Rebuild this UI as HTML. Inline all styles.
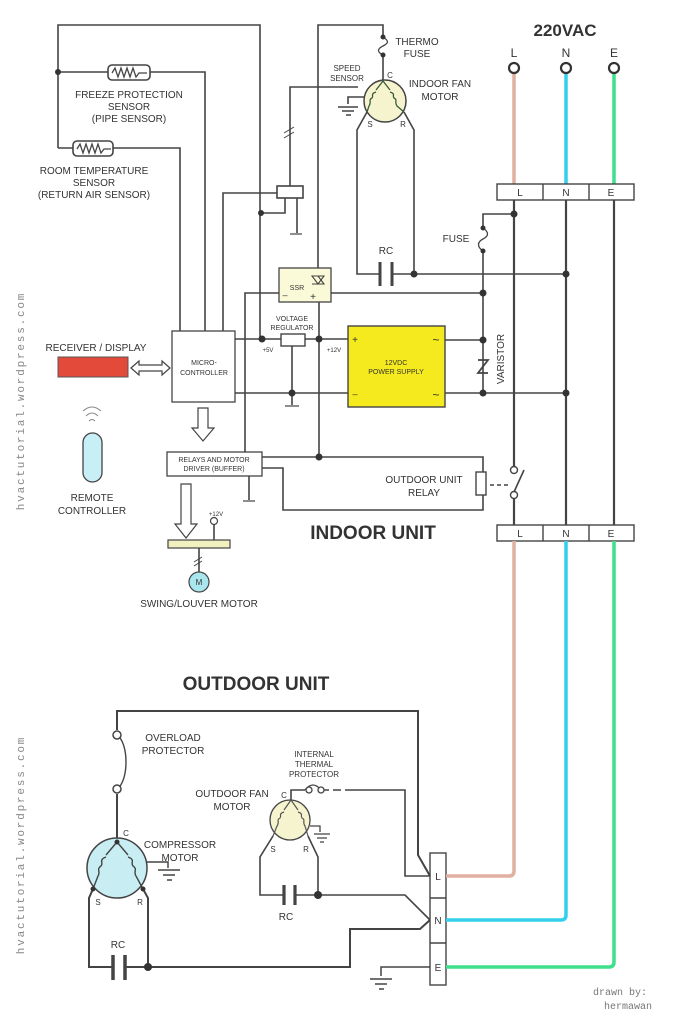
<!DOCTYPE html>
<html><head><meta charset="utf-8"><style>
html,body{margin:0;padding:0;background:#fff}
svg{display:block}
text{font-family:"Liberation Sans",sans-serif;fill:#333}
</style></head><body>
<svg width="686" height="1024" viewBox="0 0 686 1024" xmlns="http://www.w3.org/2000/svg">
<g fill="none" stroke="#444" stroke-width="1.6">
<path d="M58,148 V25 H260 V339"/>
<path d="M58,72 H108 M150,72 H205 V331"/>
<path d="M58,148 H73 M113,148 H180 V331"/>
<rect x="108" y="65" width="42" height="15" rx="4"/>
<rect x="73" y="141" width="40" height="15" rx="4"/>
<path d="M112,73 l3,-5 3,9 3,-9 3,9 3,-9 3,9 3,-9 3,9 3,-4 h8" stroke-width="1.3"/>
<path d="M77,149 l3,-5 3,9 3,-9 3,9 3,-9 3,9 3,-9 3,9 3,-4 h7" stroke-width="1.3"/>
<path d="M223,331 V193 H277"/>
<rect x="277" y="186" width="26" height="12"/>
<path d="M261,213 H285 V198 M297,198 V233 M290,186 V87 H358"/>
<path d="M284,133 l10,-6 M284,138 l10,-6" stroke-width="1"/>
<path d="M290,234 h12" stroke-width="1.2"/>
<path d="M318,270 V25 H383 V37 M383,55 V81"/>
<path d="M383,37 c6,4 6,6 0,9 c-6,3 -6,6 0,9" stroke-width="1.3"/>
<path d="M367,112 L357,130 V274 H380 M392,274 H565 M404,112 L414,130 V274"/>
<path d="M380,262 V286 M392,262 V286" stroke-width="3"/>
<path d="M364,97 H348 V104 M338,107 h20 M342,111 h12 M346,115 h5"/>
<path d="M514,200 V470 M514,495 V525 M566,200 V525 M614,200 V525" stroke-width="2.2"/>
<path d="M514,214 H483 V228 M483,251 V393"/>
<path d="M483,228 c6,4 6,8 0,11 c-6,3 -6,8 0,12" stroke-width="1.3"/>
<path d="M245,452 V293 H279 M331,293 H483 M319,302 V456"/>
<path d="M235,339 H281 M305,339 H348 M235,393 H348 M292,346 V405 M445,340 H483 M445,393 H566"/>
<rect x="281" y="334" width="24" height="12" stroke-width="1.4"/>
<path d="M285,406 h14" stroke-width="1.2"/>
<path d="M478,360 L488,360 L478,373 L488,373" stroke-width="1.8"/>
<path d="M262,457 H483 V472 M483,495 V510 H283 V468 H262 M249,476 V500"/>
<rect x="476" y="472" width="10" height="23" stroke-width="1.4"/>
<path d="M490,485 h20" stroke-dasharray="4,3"/>
<path d="M514,492 L524,470"/>
<path d="M243,501 h12" stroke-width="1.2"/>
<path d="M199,548 V572 M214,524 V540"/>
<path d="M194,562 l8,-5 M194,566 l8,-5" stroke-width="1"/>
</g>
<g fill="#333">
<circle cx="58" cy="72" r="3"/><circle cx="261" cy="213" r="3"/><circle cx="383" cy="37" r="2.5"/><circle cx="383" cy="55" r="2.5"/>
<circle cx="414" cy="274" r="3.5"/><circle cx="566" cy="274" r="3.5"/><circle cx="514" cy="214" r="3.5"/>
<circle cx="483" cy="228" r="2.5"/><circle cx="483" cy="251" r="2.5"/><circle cx="483" cy="293" r="3.5"/>
<circle cx="262" cy="339" r="3.5"/><circle cx="319" cy="339" r="3.5"/><circle cx="292" cy="393" r="3.5"/>
<circle cx="483" cy="340" r="3.5"/><circle cx="483" cy="393" r="3.5"/><circle cx="566" cy="393" r="3.5"/><circle cx="319" cy="457" r="3.5"/>
</g>
<circle cx="385" cy="101" r="21" fill="#f6f4cf" stroke="#444" stroke-width="1.5"/>
<path d="M383,81 L376,90 M383,81 L390,90 M376,92 c-6,2 -2,4 -4,6 c-4,2 0,4 -3,8 L367,112 M390,92 c6,2 2,4 4,6 c4,2 0,4 3,8 L404,112" fill="none" stroke="#3a5a3a" stroke-width="1.3"/>
<path d="M514,73 V184" stroke="#e0b0a0" stroke-width="3.5"/>
<path d="M566,73 V184" stroke="#33d0ee" stroke-width="3.5"/>
<path d="M614,73 V184" stroke="#3ee08c" stroke-width="3.5"/>
<g fill="#fff" stroke="#333" stroke-width="2.2"><circle cx="514" cy="68" r="5"/><circle cx="566" cy="68" r="5"/><circle cx="614" cy="68" r="5"/></g>
<g fill="#fff" stroke="#444" stroke-width="1.4">
<rect x="497" y="184" width="137" height="16"/><rect x="497" y="525" width="137" height="16"/>
<rect x="430" y="853" width="16" height="132"/>
<circle cx="514" cy="470" r="3.5"/><circle cx="514" cy="495" r="3.5"/>
</g>
<path d="M543,184 v16 M589,184 v16 M543,525 v16 M589,525 v16 M430,898 h16 M430,943 h16" stroke="#444" stroke-width="1.4"/>
<rect x="279" y="268" width="52" height="34" fill="#fafad8" stroke="#444" stroke-width="1.3"/>
<path d="M312,276 h12 l-6,8 z M312,284 h12 l-6,-8" fill="none" stroke="#444" stroke-width="1.1"/>
<rect x="172" y="331" width="63" height="71" fill="#fff" stroke="#444" stroke-width="1.3"/>
<rect x="348" y="326" width="97" height="81" fill="#f5ea1e" stroke="#444" stroke-width="1.4"/>
<rect x="58" y="357" width="70" height="20" fill="#e44a3a" stroke="#555" stroke-width="1"/>
<path d="M131,368 l8,-7 v4 h23 v-4 l8,7 -8,7 v-4 h-23 v4 z" fill="#fff" stroke="#444" stroke-width="1.2"/>
<path d="M198,408 h10 v20 h6 l-11,13 -11,-13 h6 z" fill="#fff" stroke="#444" stroke-width="1.2"/>
<path d="M181,484 h10 v40 h6 l-11,14 -11,-14 h6 z" fill="#fff" stroke="#444" stroke-width="1.2"/>
<rect x="167" y="452" width="95" height="24" fill="#fff" stroke="#444" stroke-width="1.3"/>
<rect x="83" y="433" width="19" height="49" rx="9.5" fill="#c8eef6" stroke="#444" stroke-width="1.3"/>
<path d="M89,421 q3,-3 6,0 M86,416 q6,-6 12,0 M83,411 q9,-8 18,0" fill="none" stroke="#888" stroke-width="1"/>
<rect x="168" y="540" width="62" height="8" fill="#f2efc0" stroke="#444" stroke-width="1.2"/>
<circle cx="214" cy="521" r="3.5" fill="#fff" stroke="#444" stroke-width="1.2"/>
<circle cx="199" cy="582" r="10" fill="#a9e6ee" stroke="#444" stroke-width="1.2"/>
<path d="M446,876 H509 Q514,876 514,871 V541" fill="none" stroke="#e0b0a0" stroke-width="3.5"/>
<path d="M446,920 H561 Q566,920 566,915 V541" fill="none" stroke="#33d0ee" stroke-width="3.5"/>
<path d="M446,967 H609 Q614,967 614,962 V541" fill="none" stroke="#3ee08c" stroke-width="3.5"/>
<g fill="none" stroke="#444" stroke-width="2">
<path d="M117,730 V711 H418 V855 L430,876"/>
<path d="M117,794 V842"/>
<path d="M117,735 c12,8 12,46 0,54" stroke-width="1.4"/>
<path d="M93,889 L89,898 V967 H113 M125,967 H350 V929 H420 L430,920 M143,889 L148,898 V967"/>
<path d="M113,955 V980 M125,955 V980" stroke-width="3.5"/>
<path d="M147,862 H168 V868 M158,870 h22 M163,875 h12 M167,880 h5" stroke-width="1.5"/>
<path d="M291,800 V790 H305 M321,790 H323 M345,790 H405 V876 H430" stroke-width="1.6"/>
<path d="M323,790 h6 M333,790 h8" stroke-width="1.6"/>
<path d="M305,790 q8,-10 16,0" stroke-width="1.3"/>
<path d="M273,836 L260,857 V895 H284 M295,895 H405 L430,920 M308,836 L318,857 V895" stroke-width="1.6"/>
<path d="M284,885 V905 M295,885 V905" stroke-width="3.2"/>
<path d="M310,826 H320 V832 M314,834 h16 M317,838 h10 M320,842 h4" stroke-width="1.3"/>
<path d="M430,967 H381 V976 M370,979 h22 M375,984 h12 M379,989 h5" stroke-width="1.5"/>
</g>
<circle cx="117" cy="735" r="4" fill="#fff" stroke="#444" stroke-width="1.5"/>
<circle cx="117" cy="789" r="4" fill="#fff" stroke="#444" stroke-width="1.5"/>
<circle cx="309" cy="790" r="3" fill="#fff" stroke="#444" stroke-width="1.3"/>
<circle cx="321" cy="790" r="3" fill="#fff" stroke="#444" stroke-width="1.3"/>
<circle cx="117" cy="868" r="30" fill="#c8eef4" stroke="#444" stroke-width="1.5"/>
<path d="M117,842 L106,855 M117,842 L128,855 M106,857 c-8,3 -2,6 -5,9 c-5,3 0,6 -3,10 L93,889 M128,857 c8,3 2,6 5,9 c5,3 0,6 3,10 L143,889" fill="none" stroke="#444" stroke-width="1.4"/>
<circle cx="290" cy="820" r="20" fill="#f6f4cf" stroke="#444" stroke-width="1.3"/>
<path d="M291,800 L284,810 M291,800 L298,810 M284,812 c-6,2 -2,4 -4,6 c-4,2 0,4 -3,8 L273,836 M298,812 c6,2 2,4 4,6 c4,2 0,4 3,8 L308,836" fill="none" stroke="#555" stroke-width="1.2"/>
<g fill="#333"><circle cx="117" cy="842" r="2.5"/><circle cx="93" cy="889" r="2.5"/><circle cx="143" cy="889" r="2.5"/><circle cx="148" cy="967" r="4"/><circle cx="318" cy="895" r="4"/></g>
<g text-anchor="middle" font-size="10">
<text x="129" y="98">FREEZE PROTECTION</text><text x="129" y="110">SENSOR</text><text x="129" y="122">(PIPE SENSOR)</text>
<text x="94" y="174">ROOM TEMPERATURE</text><text x="94" y="186">SENSOR</text><text x="94" y="198">(RETURN AIR SENSOR)</text>
<text x="347" y="71" font-size="8">SPEED</text><text x="347" y="81" font-size="8">SENSOR</text>
<text x="390" y="78" font-size="8">C</text><text x="370" y="127" font-size="8">S</text><text x="403" y="127" font-size="8">R</text>
<text x="440" y="87">INDOOR FAN</text><text x="440" y="100">MOTOR</text>
<text x="417" y="45">THERMO</text><text x="417" y="57">FUSE</text>
<text x="565" y="36" font-size="17" font-weight="bold">220VAC</text>
<text x="514" y="57" font-size="12">L</text><text x="566" y="57" font-size="12">N</text><text x="614" y="57" font-size="12">E</text>
<text x="520" y="196" font-size="10">L</text><text x="566" y="196" font-size="10">N</text><text x="611" y="196" font-size="10">E</text>
<text x="520" y="537" font-size="10">L</text><text x="566" y="537" font-size="10">N</text><text x="611" y="537" font-size="10">E</text>
<text x="456" y="242">FUSE</text><text x="386" y="254">RC</text>
<text x="297" y="290" font-size="7">SSR</text><text x="285" y="298" font-size="9">–</text><text x="313" y="300" font-size="10">+</text>
<text x="292" y="321" font-size="7">VOLTAGE</text><text x="292" y="330" font-size="7">REGULATOR</text>
<text x="268" y="352" font-size="6">+5V</text><text x="334" y="352" font-size="6">+12V</text>
<text x="355" y="343" font-size="10">+</text><text x="355" y="397" font-size="9">–</text>
<text x="436" y="344" font-size="12">~</text><text x="436" y="399" font-size="12">~</text>
<text x="396" y="365" font-size="7">12VDC</text><text x="396" y="374" font-size="7">POWER SUPPLY</text>
<text x="204" y="365" font-size="7">MICRO-</text><text x="204" y="375" font-size="7">CONTROLLER</text>
<text x="96" y="351">RECEIVER / DISPLAY</text>
<text x="92" y="501">REMOTE</text><text x="92" y="514">CONTROLLER</text>
<text x="214" y="462" font-size="7">RELAYS AND MOTOR</text><text x="214" y="471" font-size="7">DRIVER (BUFFER)</text>
<text x="216" y="516" font-size="6">+12V</text>
<text x="199" y="585" font-size="8">M</text>
<text x="199" y="607">SWING/LOUVER MOTOR</text>
<text x="424" y="483">OUTDOOR UNIT</text><text x="424" y="496">RELAY</text>
<text x="373" y="539" font-size="19" font-weight="bold">INDOOR UNIT</text>
<text x="256" y="690" font-size="19" font-weight="bold">OUTDOOR UNIT</text>
<text x="173" y="741">OVERLOAD</text><text x="173" y="754">PROTECTOR</text>
<text x="314" y="757" font-size="8">INTERNAL</text><text x="314" y="767" font-size="8">THERMAL</text><text x="314" y="777" font-size="8">PROTECTOR</text>
<text x="232" y="797">OUTDOOR FAN</text><text x="232" y="810">MOTOR</text>
<text x="284" y="798" font-size="8">C</text><text x="273" y="852" font-size="8">S</text><text x="306" y="852" font-size="8">R</text>
<text x="286" y="920">RC</text>
<text x="180" y="848">COMPRESSOR</text><text x="180" y="861">MOTOR</text>
<text x="126" y="836" font-size="8">C</text><text x="98" y="905" font-size="8">S</text><text x="140" y="905" font-size="8">R</text>
<text x="118" y="948">RC</text>
<text x="438" y="880" font-size="10">L</text><text x="438" y="924" font-size="10">N</text><text x="438" y="971" font-size="10">E</text>
</g>
<text x="0" y="0" font-size="10" text-anchor="middle" transform="translate(504,359) rotate(-90)">VARISTOR</text>
<text x="620" y="995" text-anchor="middle" font-size="10" style="font-family:'Liberation Mono',monospace;fill:#777">drawn by:</text>
<text x="628" y="1009" text-anchor="middle" font-size="10" style="font-family:'Liberation Mono',monospace;fill:#777">hermawan</text>
<text x="0" y="0" text-anchor="middle" font-size="11" letter-spacing="1.8" transform="translate(24,401) rotate(-90)" style="font-family:'Liberation Mono',monospace;fill:#888">hvactutorial.wordpress.com</text>
<text x="0" y="0" text-anchor="middle" font-size="11" letter-spacing="1.8" transform="translate(24,845) rotate(-90)" style="font-family:'Liberation Mono',monospace;fill:#888">hvactutorial.wordpress.com</text>
</svg>
</body></html>
